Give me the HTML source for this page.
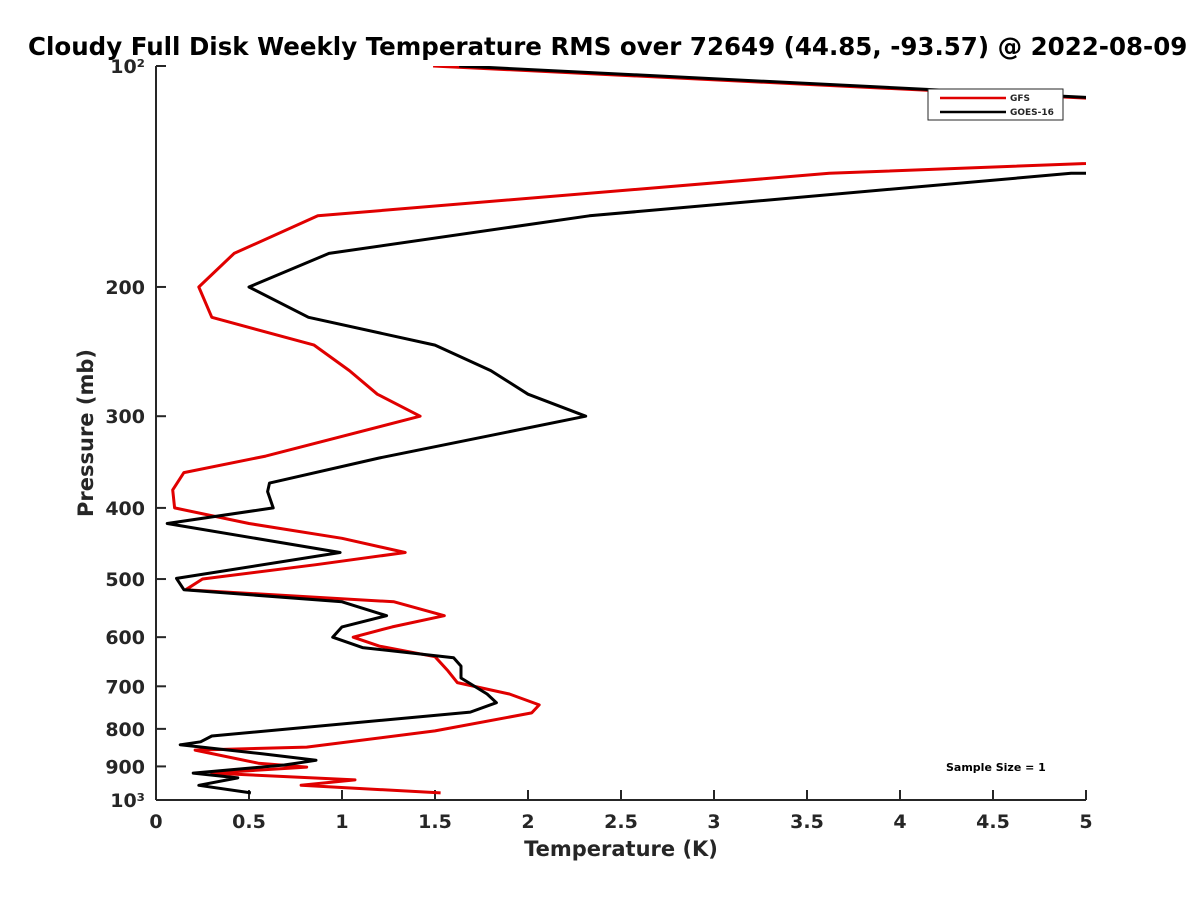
<!DOCTYPE html>
<html><head><meta charset="utf-8"><style>
body{margin:0;background:#fff;overflow:hidden;}
svg text{font-family:"DejaVu Sans","Liberation Sans",sans-serif;font-weight:bold;fill:#262626;}
</style></head><body>
<svg id="chart" width="1200" height="900" xmlns="http://www.w3.org/2000/svg">
<defs><clipPath id="plotclip"><rect x="156" y="66" width="930" height="734"/></clipPath></defs>
<text x="28" y="55" font-size="24.5" style="fill:#000">Cloudy Full Disk Weekly Temperature RMS over 72649 (44.85, -93.57) @ 2022-08-09</text>
<g id="axes"></g>
<g id="series" clip-path="url(#plotclip)"></g>
<g>
<rect x="928" y="89" width="135" height="31" fill="#fff" stroke="#262626" stroke-width="1"/>
<line x1="940" y1="98" x2="1006" y2="98" stroke="#e00000" stroke-width="2.5"/>
<text x="1010" y="101" font-size="9">GFS</text>
<line x1="940" y1="112" x2="1006" y2="112" stroke="#000" stroke-width="2.5"/>
<text x="1010" y="115" font-size="9">GOES-16</text>
</g>
<text x="946" y="771" font-size="11" style="fill:#000">Sample Size = 1</text>
<text x="621" y="856" font-size="21" text-anchor="middle">Temperature (K)</text>
<text transform="translate(93,433) rotate(-90)" font-size="21" text-anchor="middle">Pressure (mb)</text>
</svg>
<script>
const xTicks=[0,0.5,1,1.5,2,2.5,3,3.5,4,4.5,5];
const xTickLabels=["0","0.5","1","1.5","2","2.5","3","3.5","4","4.5","5"];
const yTicks=[100,200,300,400,500,600,700,800,900,1000];
const yTickLabels=["10²","200","300","400","500","600","700","800","900","10³"];
const gfsTemp=[1.49,9.0,8.0,3.62,0.87,0.42,0.23,0.3,0.85,1.04,1.19,1.42,0.59,0.15,0.09,0.1,0.5,1.0,1.34,0.86,0.25,0.16,1.28,1.55,1.27,1.06,1.2,1.5,1.57,1.62,1.9,2.06,2.02,1.5,0.81,0.21,0.55,0.81,0.3,1.07,0.78,1.53];
const gfsPres=[100,124,127,140,160,180,200,220,240,260,280,300,340,358,378,400,420,440,460,478,500,517,537,561,581,600,617,638,667,692,717,742,761,805,847,855,891,902,919,939,955,978];
const goesTemp=[1.63,9.0,9.0,4.92,2.33,0.93,0.5,0.82,1.5,1.8,2.0,2.31,1.2,0.61,0.6,0.63,0.06,0.99,0.11,0.15,1.0,1.24,1.0,0.95,1.11,1.6,1.64,1.64,1.78,1.83,1.69,0.3,0.24,0.13,0.57,0.86,0.69,0.2,0.44,0.23,0.51];
const goesPres=[100,124,138,140,160,180,200,220,240,260,280,300,342,370,380,400,420,460,499,517,537,561,581,600,620,640,657,682,717,737,759,818,833,841,865,883,896,919,933,955,978];
const X=v=>156+v*186;
const Y=p=>66+(Math.log10(p)-2)*734;
const NS="http://www.w3.org/2000/svg";
const axes=document.getElementById('axes');
function mk(tag,attrs,parent){const e=document.createElementNS(NS,tag);for(const k in attrs)e.setAttribute(k,attrs[k]);parent.appendChild(e);return e;}
const ax=mk('line',{x1:156,y1:66,x2:156,y2:800,stroke:'#262626','stroke-width':2},axes);


const bx=mk('line',{x1:156,y1:800,x2:1086,y2:800,stroke:'#262626','stroke-width':2},axes);


xTicks.forEach((t,i)=>{
  const l=mk('line',{x1:X(t),y1:800,x2:X(t),y2:790,stroke:'#262626','stroke-width':2},axes);
  
  
  const tx=mk('text',{x:X(t),y:828,'font-size':19,'text-anchor':'middle'},axes);
  tx.textContent=xTickLabels[i];
  
  
});
yTicks.forEach((t,i)=>{
  const l=mk('line',{x1:156,y1:Y(t),x2:166,y2:Y(t),stroke:'#262626','stroke-width':2},axes);
  
  
  const tx=mk('text',{x:145,y:Y(t)+7,'font-size':19,'text-anchor':'end'},axes);
  tx.textContent=yTickLabels[i];
  
  
});
const ser=document.getElementById('series');
function line(T,P,color,name){
  const pts=T.map((t,i)=>X(t).toFixed(1)+','+Y(P[i]).toFixed(1)).join(' ');
  const pl=mk('polyline',{points:pts,fill:'none',stroke:color,'stroke-width':3,'stroke-linejoin':'round'},ser);
  
  
}
line(gfsTemp,gfsPres,'#e00000','gfs-line');
line(goesTemp,goesPres,'#000','goes16-line');
</script>
</body></html>
